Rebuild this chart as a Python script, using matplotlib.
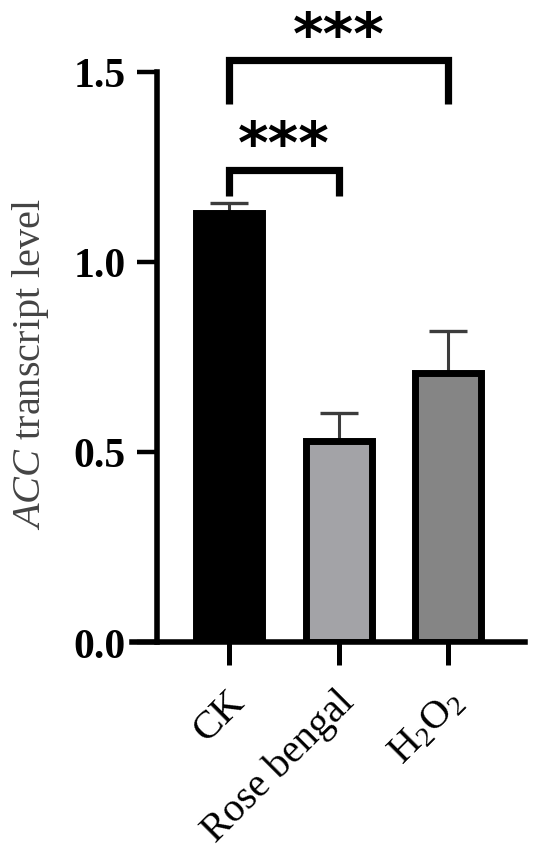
import matplotlib
matplotlib.use("Agg")
import matplotlib.pyplot as plt
from matplotlib.transforms import ScaledTranslation
import numpy as np

categories = ["CK", "Rose bengal", r"H$_2$O$_2$"]
values = [1.13, 0.528, 0.707]
errors = [0.025, 0.075, 0.111]
bar_colors = ["#000000", "#a3a3a7", "#858585"]
yticks = [0.0, 0.5, 1.0, 1.5]
ytick_labels = ["0.0", "0.5", "1.0", "1.5"]
comparisons = [(0, 1, "***"), (0, 2, "***")]

plt.rcParams["font.family"] = ["Liberation Serif", "DejaVu Serif"]
plt.rcParams["mathtext.fontset"] = "custom"
plt.rcParams["mathtext.rm"] = "Liberation Serif"
plt.rcParams["mathtext.it"] = "Liberation Serif:italic"
plt.rcParams["mathtext.bf"] = "Liberation Serif:bold"

fig = plt.figure(figsize=(5.5, 8.53), dpi=100)
ax = fig.add_axes([132/550, 1 - 643/853, 393/550, (643 - 73)/853])

x = np.arange(len(categories))
ax.bar(x, values, width=0.6, color=bar_colors, edgecolor="black",
       linewidth=5.0, zorder=3)
ax.errorbar(x, values, yerr=[np.zeros(len(values)), errors], fmt="none",
            ecolor="#3c3c3c", elinewidth=2.2, capsize=13.5, capthick=2.4,
            zorder=2)

ax.set_xlim(-0.886, 2.70)
ax.set_ylim(0, 1.5)

for s in ["top", "right"]:
    ax.spines[s].set_visible(False)
ax.spines["left"].set_position(("data", -0.658))
ax.spines["left"].set_linewidth(4)
ax.spines["bottom"].set_linewidth(4)
ax.spines["left"].set_capstyle("projecting")

ax.set_yticks(yticks)
ax.set_yticklabels(ytick_labels, fontsize=30, fontweight="bold")
ax.tick_params(axis="y", length=14.5, width=3.2, pad=8)

ax.set_xticks(x)
ax.set_xticklabels(categories, fontsize=29, rotation=45, ha="right",
                   rotation_mode="anchor", va="center")
ax.tick_params(axis="x", length=16.5, width=3.6, pad=22)
offset = ScaledTranslation(0.10, 0, fig.dpi_scale_trans)
for lab in ax.get_xticklabels():
    lab.set_transform(lab.get_transform() + offset)

ax.set_ylabel(r"$\mathit{ACC}$ transcript level", fontsize=29,
              color="#444444")
ax.yaxis.set_label_coords(-0.205, 0.49)

# significance brackets
bracket_specs = [(1.174, 1.242, 1.307), (1.416, 1.532, 1.594)]
for (i, j, txt), (low, top, star_y) in zip(comparisons, bracket_specs):
    ax.plot([x[i], x[i], x[j], x[j]], [low, top, top, low], color="black",
            linewidth=5.2, clip_on=False, solid_joinstyle="miter",
            solid_capstyle="butt", zorder=4)
    ax.text((x[i] + x[j]) / 2, star_y, txt, ha="center", va="center",
            fontsize=42, fontweight="bold", family="DejaVu Sans",
            clip_on=False)

fig.savefig("out.png", dpi=100)
